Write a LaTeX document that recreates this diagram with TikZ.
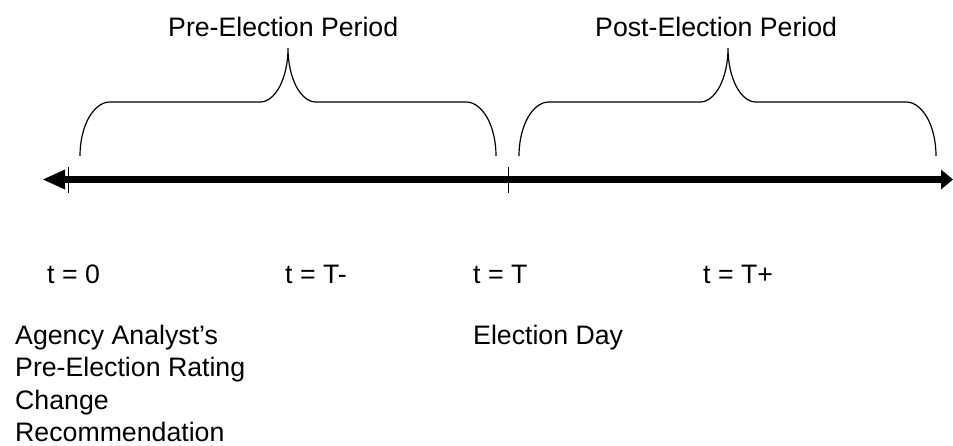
\documentclass[tikz,border=0pt]{standalone}
\usepackage{fontspec}
\setmainfont{Liberation Sans}
\begin{document}
\begin{tikzpicture}[x=1pt,y=-1pt,
  lbl/.style={anchor=base west,inner sep=0pt,font=\fontsize{26.7}{32}\selectfont},
  brace/.style={line width=1.2pt},
  tickmark/.style={line width=1pt},
  axis/.style={line width=6.5pt},
  head/.style={fill=black}]
\useasboundingbox (0,0) rectangle (953,445);

% timeline axis with arrowheads at both ends
\coordinate (axL) at (65,179.5);
\coordinate (axR) at (942,179.5);
\draw[axis] (axL) -- (axR);
\fill[head] (43,179.5) -- (65,169.5) -- (65,189.5) -- cycle;
\fill[head] (953,179.5) -- (941,169.5) -- (941,189.5) -- cycle;

% tick marks at t = 0 and t = T
\coordinate (t0a) at (68,167);  \coordinate (t0b) at (68,193);
\coordinate (tTa) at (508,167); \coordinate (tTb) at (508,193);
\draw[tickmark] (t0a) -- (t0b);
\draw[tickmark] (tTa) -- (tTb);

% brace over the pre-election period
\draw[brace] (80,156) .. controls (80,126) and (93.4,102) .. (110,102)
  -- (260,102) .. controls (275.5,102) and (288,78) .. (288,48)
  .. controls (288,78) and (300.5,102) .. (316,102)
  -- (466,102) .. controls (482.6,102) and (496,126) .. (496,156);

% brace over the post-election period
\draw[brace] (519,156) .. controls (519,126) and (532.4,102) .. (549,102)
  -- (700,102) .. controls (715.5,102) and (728,78) .. (728,48)
  .. controls (728,78) and (740.5,102) .. (756,102)
  -- (906,102) .. controls (922.6,102) and (936,126) .. (936,156);

% period titles
\node[lbl] (pre)  at (168,36) {Pre-Election Period};
\node[lbl] (post) at (595,36) {Post-Election Period};

% time labels
\node[lbl] (l0)  at (47,283)  {t = 0};
\node[lbl] (lTm) at (285,283) {t = T-};
\node[lbl] (lT)  at (473,283) {t = T};
\node[lbl] (lTp) at (703,283) {t = T+};

% event descriptions
\node[lbl] (ag1) at (15,344)   {Agency Analyst’s};
\node[lbl] (ag2) at (15,376.5) {Pre-Election Rating};
\node[lbl] (ag3) at (15,409)   {Change};
\node[lbl] (ag4) at (15,441)   {Recommendation};
\node[lbl] (eday) at (473,344) {Election Day};
\end{tikzpicture}
\end{document}
